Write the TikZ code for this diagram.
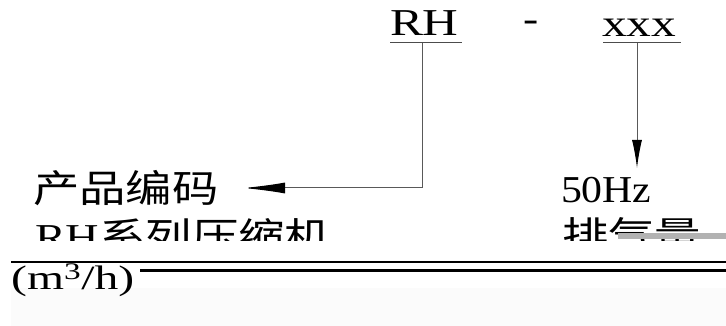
\documentclass[tikz,border=0pt]{standalone}
\usepackage{fontspec}
\usepackage{graphicx}
\setmainfont{Liberation Serif}
\newfontfamily\cjk{Noto Sans CJK SC}
\usetikzlibrary{arrows.meta}
\tikzset{
  lbl/.style={inner sep=0pt, outer sep=0pt, font=\fontsize{38}{40}\selectfont},
  lead/.style={draw=black!65, line width=1pt},
  ul/.style={draw=black!70, line width=1pt},
}
\newcommand{\wide}[2]{\scalebox{#1}[1]{#2}}
\begin{document}
\begin{tikzpicture}[x=1pt,y=-1pt]
\useasboundingbox (0,0) rectangle (726,326);
\fill[black!1.5] (11,288) rectangle (726,326);
% top code
\node[lbl, anchor=base west] (rh) at (390,36) {\wide{1.3}{RH}};
\node[lbl, anchor=center] (dash) at (531,26) {\wide{1.2}{-}};
\node[lbl, anchor=base west] (xxx) at (602,37) {\wide{1.3}{xxx}};
\coordinate (rhL) at (390,43);
\coordinate (rhR) at (462,43);
\coordinate (xxL) at (603,43);
\coordinate (xxR) at (681,43);
\draw[ul] (rhL) -- (rhR);
\draw[ul] (xxL) -- (xxR);
\coordinate (rhM) at (422,43);
\coordinate (xxM) at (637,43);
\coordinate (bend) at (422,188);
\coordinate (codetip) at (243,188);
\coordinate (hztip) at (637,168);
\draw[lead, -{Latex[length=42pt,width=11pt,color=black]}] (rhM) -- (bend) -- (codetip);
\draw[lead, -{Latex[length=28pt,width=10pt,color=black]}] (xxM) -- (hztip);
% labels
\node[lbl, anchor=base west] (code) at (33,202) {\wide{1.22}{\cjk 产品编码}};
\node[lbl, anchor=base west] (hz) at (561,202) {\wide{1.1}{50Hz}};
\begin{scope}
\clip (0,0) rectangle (726,240);
\node[lbl, anchor=base west] (series) at (35,251) {\wide{1.22}{RH\cjk 系列压缩机}};
\node[lbl, anchor=base west] (disp) at (562,249) {\wide{1.22}{\cjk 排气量}};
\end{scope}
\fill[black!30] (618,233) rectangle (726,239);
% rules
\coordinate (r1a) at (11,262);
\coordinate (r1b) at (726,262);
\coordinate (r2a) at (140,270);
\coordinate (r2b) at (726,270);
\draw[black, line width=1.2pt] (r1a) -- (r1b);
\draw[black, line width=3pt] (r2a) -- (r2b);
\node[inner sep=0pt, anchor=base west, font=\fontsize{34}{36}\selectfont] (unit) at (11,289) {\wide{1.4}{(m\textsuperscript{3}/h)}};
\end{tikzpicture}
\end{document}
